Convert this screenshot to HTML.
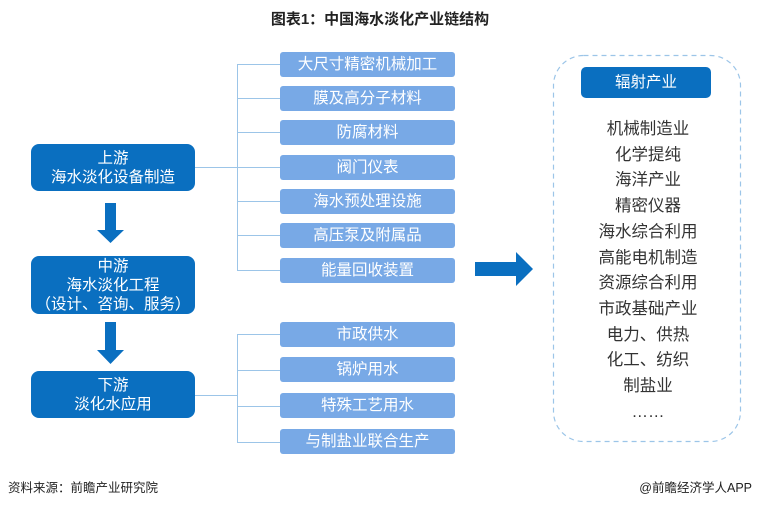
<!DOCTYPE html>
<html><head><meta charset="utf-8"><style>
body{margin:0;width:760px;height:507px;background:#fff;position:relative;font-family:"Liberation Sans","Noto Sans CJK SC",sans-serif;overflow:hidden}
.a{position:absolute}
.t{left:0;width:760px;top:8px;text-align:center;font-weight:bold;font-size:15px;color:#222}
.lb{left:31px;width:164px;background:#0a6fc0;border-radius:8px;color:#fff;font-size:15.5px;text-align:center;line-height:19px;display:flex;flex-direction:column;justify-content:center}
.rb{left:280px;width:175px;height:25px;background:#78a9e6;border-radius:3px;color:#fff;font-size:15.5px;text-align:center;line-height:25px}
.ln{background:#9cc5e8}
.rt{left:555px;width:186px;text-align:center;font-size:16.5px;color:#333;line-height:25.7px}
</style></head><body>
<div class="a t">图表1：中国海水淡化产业链结构</div>

<div class="a lb" style="top:144px;height:47px">上游<br>海水淡化设备制造</div>
<div class="a lb" style="top:256px;height:58px">中游<br>海水淡化工程<br>（设计、咨询、服务）</div>
<div class="a lb" style="top:371px;height:47px">下游<br>淡化水应用</div>

<svg class="a" style="left:0;top:0" width="760" height="507">
<polygon points="105,203 116,203 116,230 124,230 110.5,243 97,230 105,230" fill="#0a6fc0"/>
<polygon points="105,322 116,322 116,350 124,350 110.5,364 97,350 105,350" fill="#0a6fc0"/>
<polygon points="475,262 516,262 516,252 533,269 516,286 516,276 475,276" fill="#0a6fc0"/>
<rect x="553.5" y="55.5" width="187" height="386" rx="30" fill="none" stroke="#9cc5e8" stroke-width="1.2" stroke-dasharray="5,4"/>
</svg>

<div class="a ln" style="left:195px;top:167px;width:42px;height:1px"></div>
<div class="a ln" style="left:237px;top:64px;width:1px;height:207px"></div>
<div class="a ln" style="left:237px;top:64px;width:43px;height:1px"></div>
<div class="a ln" style="left:237px;top:98px;width:43px;height:1px"></div>
<div class="a ln" style="left:237px;top:132px;width:43px;height:1px"></div>
<div class="a ln" style="left:237px;top:167px;width:43px;height:1px"></div>
<div class="a ln" style="left:237px;top:201px;width:43px;height:1px"></div>
<div class="a ln" style="left:237px;top:235px;width:43px;height:1px"></div>
<div class="a ln" style="left:237px;top:270px;width:43px;height:1px"></div>

<div class="a ln" style="left:195px;top:395px;width:42px;height:1px"></div>
<div class="a ln" style="left:237px;top:334px;width:1px;height:109px"></div>
<div class="a ln" style="left:237px;top:334px;width:43px;height:1px"></div>
<div class="a ln" style="left:237px;top:370px;width:43px;height:1px"></div>
<div class="a ln" style="left:237px;top:406px;width:43px;height:1px"></div>
<div class="a ln" style="left:237px;top:442px;width:43px;height:1px"></div>

<div class="a rb" style="top:52px">大尺寸精密机械加工</div>
<div class="a rb" style="top:86px">膜及高分子材料</div>
<div class="a rb" style="top:120px">防腐材料</div>
<div class="a rb" style="top:155px">阀门仪表</div>
<div class="a rb" style="top:189px">海水预处理设施</div>
<div class="a rb" style="top:223px">高压泵及附属品</div>
<div class="a rb" style="top:258px">能量回收装置</div>
<div class="a rb" style="top:322px">市政供水</div>
<div class="a rb" style="top:357px">锅炉用水</div>
<div class="a rb" style="top:393px">特殊工艺用水</div>
<div class="a rb" style="top:429px">与制盐业联合生产</div>

<div class="a" style="left:581px;top:67px;width:130px;height:31px;background:#0a6fc0;border-radius:5px;color:#fff;font-size:15.5px;text-align:center;line-height:31px">辐射产业</div>
<div class="a rt" style="top:117px">机械制造业<br>化学提纯<br>海洋产业<br>精密仪器<br>海水综合利用<br>高能电机制造<br>资源综合利用<br>市政基础产业<br>电力、供热<br>化工、纺织<br>制盐业<br>……</div>

<div class="a" style="left:8px;top:477px;font-size:12.5px;color:#222">资料来源：前瞻产业研究院</div>
<div class="a" style="right:8px;top:477px;font-size:12.5px;color:#222">@前瞻经济学人APP</div>
</body></html>
